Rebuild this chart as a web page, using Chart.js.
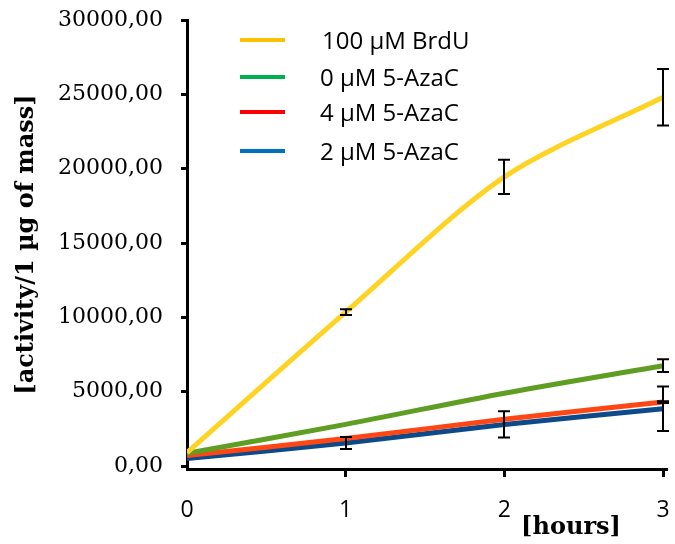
<!DOCTYPE html>
<html>
<head>
<meta charset="utf-8">
<script src="https://cdn.jsdelivr.net/npm/chart.js@4"></script>
<style>
  html, body { margin: 0; padding: 0; background: #fff; }
  #wrap { width: 675px; height: 544px; }
</style>
</head>
<body>
<div id="wrap"><canvas id="activityChart"></canvas></div>
<script>
const hours = [0, 1, 2, 3];
const yTicks = [0, 5000, 10000, 15000, 20000, 25000, 30000];

const seriesNames = ["100 \u00b5M BrdU", "0 \u00b5M 5-AzaC", "4 \u00b5M 5-AzaC", "2 \u00b5M 5-AzaC"];
const brdu = [900, 10350, 19450, 24800];
const aza0 = [850, 2800, 4900, 6750];
const aza4 = [700, 1850, 3150, 4300];
const aza2 = [500, 1550, 2800, 3850];

const brduErr = [0, 200, 1150, 1900];
const aza0Err = [0, 0, 0, 430];
const aza4Err = [0, 0, 0, 60];
const aza2Err = [0, 400, 880, 1500];

const lineColors = ["#FFD324", "#5E9E22", "#FF4715", "#0D4A8A"];
const legendColors = ["#FFC000", "#00B050", "#FF0000", "#0070C0"];

const allValues = [brdu, aza0, aza4, aza2];
const allErrors = [brduErr, aza0Err, aza4Err, aza2Err];

function toPoints(values) {
  return hours.map((h, i) => ({ x: h, y: values[i] }));
}

// black error bars with caps, on top of the lines
const errorBars = {
  id: "errorBars",
  afterDatasetsDraw(chart) {
    const { ctx } = chart;
    const yScale = chart.scales.y;
    ctx.save();
    ctx.strokeStyle = "#000";
    ctx.lineWidth = 2;
    allErrors.forEach((errs, i) => {
      const meta = chart.getDatasetMeta(i);
      meta.data.forEach((pt, j) => {
        const e = errs[j];
        if (!e) return;
        const v = allValues[i][j];
        const top = yScale.getPixelForValue(v + e);
        const bot = yScale.getPixelForValue(v - e);
        const x = Math.round(pt.x);
        ctx.beginPath();
        ctx.moveTo(x, top);
        ctx.lineTo(x, bot);
        ctx.moveTo(x - 6, top);
        ctx.lineTo(x + 6, top);
        ctx.moveTo(x - 6, bot);
        ctx.lineTo(x + 6, bot);
        ctx.stroke();
      });
    });
    ctx.restore();
  }
};

// legend inside the plot, uneven spacing as in the original
const insideLegend = {
  id: "insideLegend",
  afterDraw(chart) {
    const { ctx } = chart;
    const rowY = [40, 77, 112, 151];
    ctx.save();
    ctx.font = "24px 'Open Sans'";
    ctx.textBaseline = "middle";
    ctx.fillStyle = "#000";
    chart.data.datasets.forEach((ds, i) => {
      ctx.strokeStyle = legendColors[i];
      ctx.lineWidth = 4;
      ctx.beginPath();
      ctx.moveTo(240, rowY[i]);
      ctx.lineTo(285, rowY[i]);
      ctx.stroke();
      ctx.fillText(ds.label, i === 0 ? 322 : 320, rowY[i] + 2);
    });
    // x axis title sits right of centre
    ctx.font = "bold 24px 'DejaVu Serif'";
    ctx.textAlign = "center";
    ctx.fillText("[hours]", 571, 528);
    ctx.restore();
  }
};

new Chart(document.getElementById("activityChart"), {
  type: "line",
  data: {
    datasets: seriesNames.map((name, i) => ({
      label: name,
      data: toPoints(allValues[i]),
      borderColor: lineColors[i],
      backgroundColor: lineColors[i],
      borderWidth: 5,
      pointRadius: 0,
      tension: 0.3,
      fill: false
    }))
  },
  options: {
    responsive: true,
    maintainAspectRatio: false,
    animation: false,
    layout: { padding: { top: 20, right: 8, left: 0, bottom: 0 } },
    plugins: {
      legend: { display: false },
      tooltip: { enabled: false }
    },
    scales: {
      x: {
        type: "linear",
        min: 0,
        max: 3.025,
        afterBuildTicks: (s) => { s.ticks = hours.map((v) => ({ value: v })); },
        afterFit: (s) => {
          s.height = 75;
          s.paddingLeft = 0;
          s.paddingRight = 0;
        },
        grid: {
          drawOnChartArea: false,
          tickLength: 8,
          tickWidth: 3,
          tickColor: (c) => (c.tick && c.tick.value === 0 ? "rgba(0,0,0,0)" : "#000")
        },
        border: { color: "#000", width: 3 },
        ticks: {
          font: { family: "Open Sans", size: 23 },
          color: "#000",
          padding: 20,
          maxRotation: 0
        }
      },
      y: {
        min: -200,
        max: 30000,
        afterBuildTicks: (s) => { s.ticks = yTicks.map((v) => ({ value: v })); },
        afterFit: (s) => {
          s.width = 187;
          s.paddingTop = 0;
          s.paddingBottom = 0;
        },
        grid: {
          drawOnChartArea: false,
          tickLength: 6,
          tickWidth: 3,
          tickColor: "#000"
        },
        border: { color: "#000", width: 3 },
        ticks: {
          callback: (v) => v.toFixed(2).replace(".", ","),
          font: { family: "DejaVu Serif", size: 22 },
          color: "#000",
          padding: 18
        },
        title: {
          display: true,
          text: "[activity/1 \u00b5g of mass]",
          font: { family: "DejaVu Serif", size: 24, weight: "bold" },
          color: "#000",
          padding: { top: 12, bottom: 0 }
        }
      }
    }
  },
  plugins: [errorBars, insideLegend]
});
</script>
</body>
</html>
